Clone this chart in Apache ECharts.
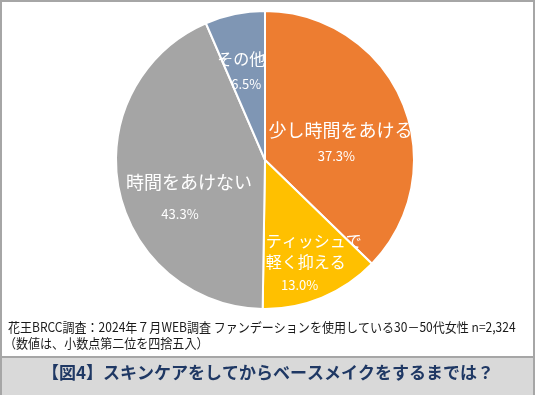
<!DOCTYPE html>
<html><head><meta charset="utf-8">
<script src="https://cdn.jsdelivr.net/npm/echarts@6/dist/echarts.min.js"></script>
<style>html,body{margin:0;padding:0;background:#fff}#c{width:536px;height:395px}</style>
</head><body><div id="c"></div>
<script>
const categories = ['少し時間をあける', 'ティッシュで\n軽く抑える', '時間をあけない', 'その他'];
const values = [37.3, 13.0, 43.3, 6.5];
const colors = ['#ED7D31', '#FFC000', '#A5A5A5', '#7F96B4'];
const footnote1 = '花王BRCC調査：2024年７月WEB調査 ファンデーションを使用している30－50代女性 n=2,324';
const footnote2 = '（数値は、小数点第二位を四捨五入）';
const titleText = '【図4】スキンケアをしてからベースメイクをするまでは？';

const FONT = '"Noto Sans CJK JP", "Noto Sans", sans-serif';
// label offsets relative to default inside position
const labelShift = [[4, 13], [19, 32], [0, 23], [-8, -13]];

const chart = echarts.init(document.getElementById('c'), null, {renderer: 'canvas'});
const lh = [[26, 26], [21, 24], [32, 32], [25, 25]];
const pctPad = [[0, 8, 0, 0], [0, 28, 0, 0], [0, 18, 0, 0], [0, 0, 0, 10]];
const data = categories.map((n, i) => ({
  name: n, value: values[i],
  itemStyle: {color: colors[i]},
  label: {
    formatter: (p) => {
      const lines = p.name.split('\n').map((s, k) => '{' + (k === 0 ? 'n' : 'm') + i + '|' + s + '}');
      return lines.join('\n') + '\n{p' + i + '|' + p.value.toFixed(1) + '%}';
    }
  }
}));
const rich = {};
categories.forEach((n, i) => {
  const fs = i === 1 ? 16 : (i === 3 ? 16 : 18);
  rich['n' + i] = {fontSize: fs, lineHeight: lh[i][0], color: '#fff', fontFamily: FONT};
  rich['m' + i] = {fontSize: fs, lineHeight: lh[i][0], color: '#fff', fontFamily: FONT, padding: [0, 16, 0, 0]};
  rich['p' + i] = {fontSize: 13, lineHeight: lh[i][1], color: '#fff', fontFamily: FONT, padding: pctPad[i]};
});

chart.setOption({
  animation: false,
  title: [
    {text: titleText, left: 'center', top: 359,
     textStyle: {fontSize: 17, fontWeight: 'bold', color: '#1F3864', fontFamily: FONT}},
  ],
  graphic: [
    {type: 'rect', shape: {x: 1, y: 357, width: 533, height: 38}, style: {fill: '#D9D9D9'}, z: -1},
    {type: 'line', shape: {x1: 1, y1: 357, x2: 534, y2: 357}, style: {stroke: '#A6A6A6', lineWidth: 2}},
    {type: 'rect', shape: {x: 1, y: 1, width: 533, height: 400}, style: {fill: 'none', stroke: '#A6A6A6', lineWidth: 2}},
    {type: 'text', x: 8, y: 321, scaleX: 0.925, style: {text: footnote1, fontSize: 13, fill: '#1a1a1a', fontFamily: FONT}},
    {type: 'text', x: 4, y: 337, scaleX: 0.925, style: {text: footnote2, fontSize: 13, fill: '#1a1a1a', fontFamily: FONT}}
  ],
  series: [{
    type: 'pie',
    center: [265, 160],
    radius: 149,
    startAngle: 90,
    clockwise: true,
    avoidLabelOverlap: false,
    itemStyle: {borderColor: '#fff', borderWidth: 2},
    label: {show: true, position: 'inside', rich: rich, color: '#fff'},
    labelLine: {show: false},
    labelLayout: (p) => ({dx: labelShift[p.dataIndex][0], dy: labelShift[p.dataIndex][1]}),
    data: data
  }]
});
</script></body></html>
